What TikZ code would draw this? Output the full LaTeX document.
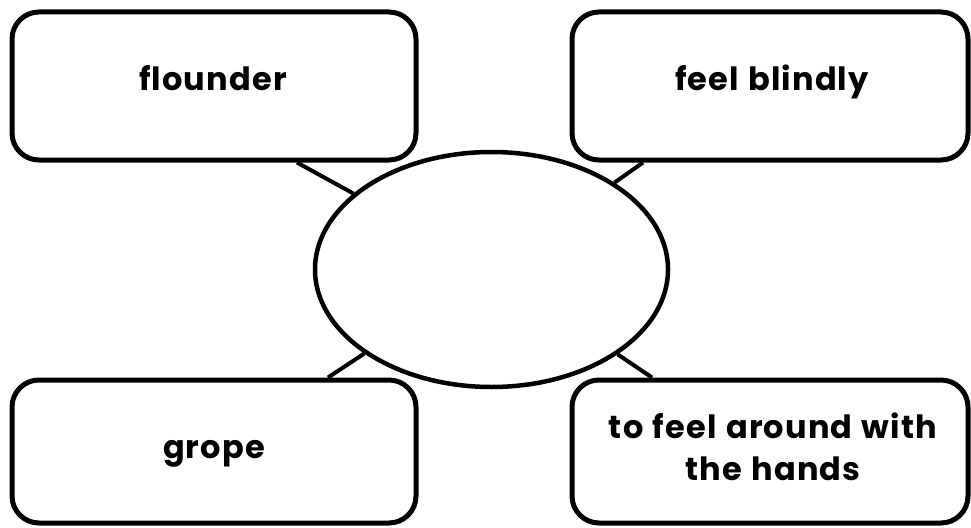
\documentclass[tikz,border=0pt]{standalone}
\usepackage{fontspec}
\setmainfont{Poppins}[LetterSpace=3.5, WordSpace=1.2]
\usetikzlibrary{shapes.geometric}
\tikzset{
  wordbox/.style={draw=black, line width=5pt, rounded corners=27pt, fill=white},
  hub/.style={draw=black, ellipse, line width=4.5pt, minimum width=353pt, minimum height=235pt, inner sep=0pt},
  link/.style={draw=black, line width=4pt},
  lbl/.style={font=\fontsize{32}{42}\selectfont\bfseries, align=center, inner sep=0pt}
}
\begin{document}
\begin{tikzpicture}[x=1pt,y=-1pt]
\useasboundingbox (0,0) rectangle (971,527);
% boxes
\node[wordbox, minimum width=404pt, minimum height=148pt] (tl) at (214,86) {};
\node[wordbox, minimum width=396pt, minimum height=148pt] (tr) at (770,86) {};
\node[wordbox, minimum width=404pt, minimum height=143pt] (bl) at (214,451.5) {};
\node[wordbox, minimum width=396pt, minimum height=143pt] (br) at (770,451.5) {};
% hub
\node[hub] (ell) at (491.5,269.5) {};
% connectors
\draw[link] ([xshift=83pt]tl.south) -- (ell);
\draw[link] ([xshift=-127pt]tr.south) -- (ell);
\draw[link] ([xshift=114pt]bl.north) -- (ell);
\draw[link] ([xshift=-118pt]br.north) -- (ell);
% labels
\node[lbl, anchor=base] (t1) at (213,90) {flounder};
\node[lbl, anchor=base] (t2) at (772,90) {feel blindly};
\node[lbl, anchor=base] (t3) at (214,458) {grope};
\node[lbl, anchor=base] (t4) at (773,438) {to feel around with};
\node[lbl, anchor=base] (t5) at (773,480) {the hands};
\end{tikzpicture}
\end{document}
